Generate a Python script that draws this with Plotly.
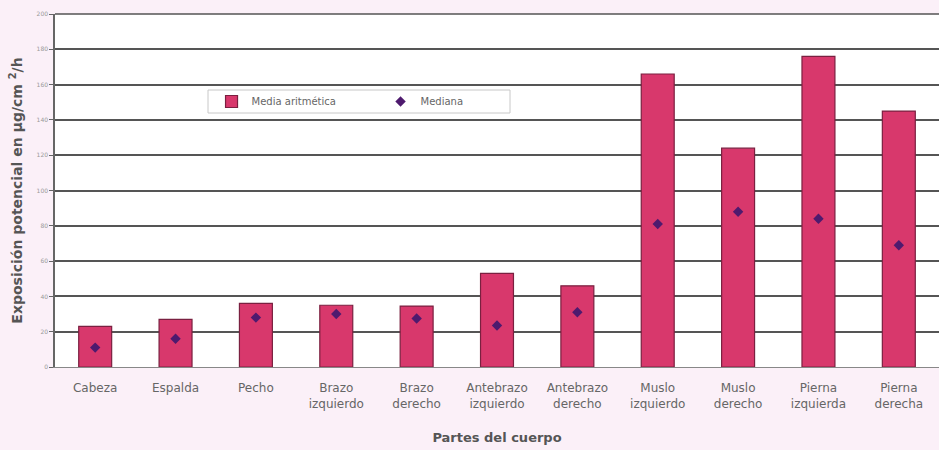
import plotly.graph_objects as go

categories = ["Cabeza", "Espalda", "Pecho", "Brazo<br>izquierdo", "Brazo<br>derecho",
              "Antebrazo<br>izquierdo", "Antebrazo<br>derecho", "Muslo<br>izquierdo",
              "Muslo<br>derecho", "Pierna<br>izquierda", "Pierna<br>derecha"]
media = [23, 27, 36, 35, 34.5, 53, 46, 166, 124, 176, 145]
mediana = [11, 16, 28, 30, 27.5, 23.5, 31, 81, 88, 84, 69]
y_ticks = [0, 20, 40, 60, 80, 100, 120, 140, 160, 180, 200]

L, R, T, B = 55, 0, 14, 83
W, H = 939, 450
pw, ph = W - L - R, H - T - B

fig = go.Figure()
fig.add_trace(go.Bar(
    x=categories, y=media, name="Media aritmética",
    marker=dict(color="#d8386c", line=dict(color="#7a2040", width=1.2)),
    width=0.41,
))
fig.add_trace(go.Scatter(
    x=categories, y=mediana, name="Mediana", mode="markers",
    marker=dict(symbol="diamond", size=8, color="#4e1a6e"),
))

# legend frame
lx0, lx1, ly0, ly1 = 208, 510, 90, 113
fig.add_shape(type="rect", xref="paper", yref="paper",
              x0=(lx0 - L) / pw, x1=(lx1 - L) / pw,
              y0=1 - (ly1 - T) / ph, y1=1 - (ly0 - T) / ph,
              fillcolor="#ffffff", line=dict(color="#c8c8c8", width=1), layer="above")

fig.update_layout(
    width=W, height=H,
    margin=dict(l=L, r=R, t=T, b=B),
    paper_bgcolor="#fbf0f8",
    plot_bgcolor="#ffffff",
    font=dict(family="DejaVu Sans, Liberation Sans, sans-serif", color="#555555", size=12),
    showlegend=True,
    legend=dict(
        orientation="h", x=(lx0 - L) / pw + 0.004, y=1 - ((ly0 + ly1) / 2 - T) / ph,
        xanchor="left", yanchor="middle",
        bgcolor="rgba(0,0,0,0)", borderwidth=0,
        font=dict(size=10, color="#666666"), entrywidth=124,
        itemwidth=30,
    ),
    xaxis=dict(
        title=dict(text="<b>Partes del cuerpo</b>", font=dict(size=13, color="#555555"), standoff=22),
        range=[-0.5, len(categories) - 0.5],
        showgrid=False, showline=True, linecolor="#888888", linewidth=1,
        tickfont=dict(size=12, color="#666666"),
        ticklabelstandoff=10,
    ),
    yaxis=dict(
        title=dict(text="<b>Exposición potencial en µg/cm <sup>2</sup>/h</b>",
                   font=dict(size=14, color="#555555"), standoff=11),
        range=[0, 200], tickvals=y_ticks,
        showgrid=True, gridcolor="#555555", gridwidth=1.5,
        showline=True, linecolor="#666666", linewidth=1.5,
        ticks="outside", ticklen=4, tickcolor="#666666",
        tickfont=dict(size=6, color="#999999"),
        zeroline=False,
    ),
)
fig.add_shape(type="line", xref="paper", yref="paper", x0=0, x1=1, y0=1, y1=1,
              line=dict(color="#555555", width=1.5))

fig.write_html("out.html")
